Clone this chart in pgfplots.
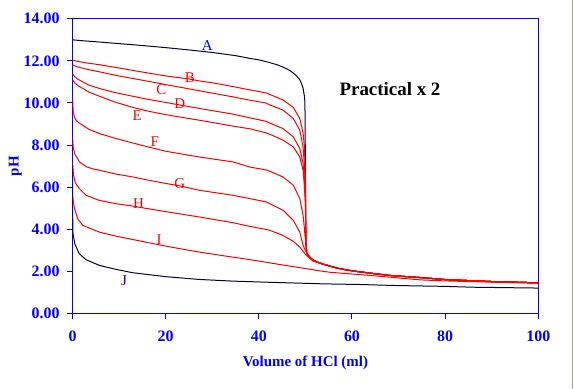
\documentclass[border=0pt]{standalone}
\usepackage{fontspec}
\setmainfont{Liberation Serif}
\usepackage{pgfplots}
\pgfplotsset{compat=1.18}
\definecolor{axblue}{RGB}{0,0,255}
\definecolor{navy}{RGB}{0,0,64}
\definecolor{edgegray}{RGB}{160,160,150}
\begin{document}
\begin{tikzpicture}[x=1bp,y=1bp]
\fill[white] (0,0) rectangle (574,387);
\draw[edgegray, line width=1bp] (572.5,0) -- (572.5,387);
\begin{axis}[
  at={(72.5bp,74.2bp)}, anchor=south west,
  scale only axis, width=465.8bp, height=294.5bp,
  xmin=0, xmax=100, ymin=0, ymax=14,
  axis line style={axblue, line width=1bp},
  xtick={0,20,40,60,80,100}, ytick={0,2,4,6,8,10,12,14},
  xticklabels={0,20,40,60,80,100},
  yticklabels={0.00,2.00,4.00,6.00,8.00,10.00,12.00,14.00},
  tick align=outside, tick pos=left,
  major tick length=5.5bp,
  tick style={axblue, line width=1bp},
  ticklabel style={font=\fontsize{16}{19}\selectfont\bfseries, text=axblue},
  yticklabel style={xshift=-4bp},
  xticklabel style={yshift=-9bp},
  xlabel={Volume of HCl (ml)}, ylabel={pH},
  label style={font=\fontsize{15}{18}\selectfont\bfseries, text=axblue},
  xlabel style={at={(axis description cs:0.5,-0.167)}, anchor=center},
  ylabel style={at={(axis description cs:-0.123,0.5)}, anchor=center},
]
% A
\addplot[navy, line width=1bp, no markers] coordinates {
(0,13.00) (2,12.96) (5,12.91) (10,12.82) (15,12.73) (20,12.63) (25,12.52) (30,12.40) (35,12.25) (38,12.12) (40,12.05) (42,11.94) (44,11.81) (45,11.72) (46,11.62) (47,11.49) (48,11.31) (48.8,11.1) (49.2,10.9) (49.5,10.7) (49.8,10.3) (49.9,10.0) (50,7.0) (50.1,3.4) (50.3,2.85) (51,2.65) (51.7,2.52) (52.4,2.45) (53.5,2.36) (55.3,2.24) (57,2.14) (58.9,2.06) (61,1.99) (65,1.88) (68.1,1.80) (70,1.77) (74.6,1.70) (80.3,1.60) (90,1.51) (100,1.45)};
% B
\addplot[red, line width=1bp, no markers] coordinates {
(0,12.04) (1,11.98) (3,11.90) (5.75,11.82) (10,11.66) (15,11.47) (20.1,11.28) (25,11.14) (27.2,11.05) (30,10.96) (34.4,10.78) (38.1,10.62) (41.5,10.48) (42.4,10.40) (45.2,10.14) (47.4,9.79) (48.8,9.26) (49.5,8.57) (49.8,7.9) (49.9,7.2) (50,6.2) (50.1,3.4) (50.3,2.85) (51,2.65) (51.7,2.52) (52.4,2.45) (53.5,2.36) (55.3,2.24) (57,2.14) (58.9,2.06) (61,1.99) (65,1.88) (68.1,1.80) (70,1.77) (74.6,1.70) (80.3,1.60) (90,1.51) (100,1.45)};
% C
\addplot[red, line width=1bp, no markers] coordinates {
(0,11.80) (1,11.72) (2.2,11.65) (3.5,11.58) (5.75,11.48) (10,11.28) (15,11.08) (20.1,10.87) (27.2,10.58) (34.4,10.29) (38.1,10.13) (41.5,10.0) (42.4,9.90) (45.2,9.66) (47.4,9.26) (48.8,8.70) (49.5,7.90) (49.8,7.0) (49.9,6.5) (50,5.9) (50.1,3.4) (50.3,2.85) (51,2.65) (51.7,2.52) (52.4,2.45) (53.5,2.36) (55.3,2.24) (57,2.14) (58.9,2.06) (61,1.99) (65,1.88) (68.1,1.80) (70,1.77) (74.6,1.70) (80.3,1.60) (90,1.51) (100,1.45)};
% D
\addplot[red, line width=1bp, no markers] coordinates {
(0,11.37) (0.5,11.25) (1,11.15) (2.2,11.0) (3.5,10.85) (5.75,10.69) (9,10.50) (12.9,10.32) (16,10.18) (20.1,10.02) (27.2,9.74) (34.4,9.47) (38.1,9.29) (41.5,9.13) (42.4,9.04) (45.2,8.78) (47.4,8.39) (48.8,7.83) (49.5,7.12) (49.8,6.4) (49.9,6.0) (50,5.5) (50.1,3.4) (50.3,2.85) (51,2.65) (51.7,2.52) (52.4,2.45) (53.5,2.36) (55.3,2.24) (57,2.14) (58.9,2.06) (61,1.99) (65,1.88) (68.1,1.80) (70,1.77) (74.6,1.70) (80.3,1.60) (90,1.51) (100,1.45)};
% E
\addplot[red, line width=1bp, no markers] coordinates {
(0,11.09) (0.5,10.95) (1.2,10.82) (2.2,10.69) (3.5,10.52) (5.75,10.32) (9,10.05) (12.9,9.79) (16,9.62) (20.1,9.44) (27.2,9.18) (34.4,8.90) (38.1,8.77) (41.5,8.58) (42.4,8.51) (45.2,8.23) (47.4,7.91) (48.8,7.43) (49.5,6.80) (49.8,6.0) (49.9,5.6) (50,5.2) (50.1,3.4) (50.3,2.85) (51,2.65) (51.7,2.52) (52.4,2.45) (53.5,2.36) (55.3,2.24) (57,2.14) (58.9,2.06) (61,1.99) (65,1.88) (68.1,1.80) (70,1.77) (74.6,1.70) (80.3,1.60) (90,1.51) (100,1.45)};
% F
\addplot[red, line width=1bp, no markers] coordinates {
(0,10.28) (0.15,9.6) (0.4,9.35) (0.75,9.18) (1.4,9.05) (2.2,8.94) (3.5,8.75) (5.75,8.55) (9.3,8.31) (12.9,8.10) (16,7.92) (20.1,7.70) (27.2,7.43) (34.4,7.20) (38.1,6.95) (41.5,6.82) (42.4,6.75) (45.2,6.48) (47.4,6.09) (48.8,5.45) (49.5,4.66) (49.8,4.0) (49.9,3.7) (50,3.55) (50.1,3.3) (50.3,2.85) (51,2.65) (51.7,2.52) (52.4,2.45) (53.5,2.36) (55.3,2.24) (57,2.14) (58.9,2.06) (61,1.99) (65,1.88) (68.1,1.80) (70,1.77) (74.6,1.70) (80.3,1.60) (90,1.51) (100,1.45)};
% G
\addplot[red, line width=1bp, no markers] coordinates {
(0,8.40) (0.15,7.90) (0.5,7.55) (0.9,7.43) (1.5,7.20) (3.0,6.96) (4.5,6.86) (5.8,6.80) (9.3,6.62) (13,6.48) (16.5,6.32) (20.1,6.17) (23,6.06) (27.2,5.85) (34.4,5.61) (38.1,5.45) (41.5,5.30) (42.4,5.21) (45.2,4.90) (47.4,4.42) (48.8,3.86) (49.5,3.23) (50,2.98) (50.6,2.75) (51.7,2.52) (52.4,2.45) (53.5,2.36) (55.3,2.24) (57,2.14) (58.9,2.06) (61,1.99) (65,1.88) (68.1,1.80) (70,1.77) (74.6,1.70) (80.3,1.60) (90,1.51) (100,1.45)};
% H
\addplot[red, line width=1bp, no markers] coordinates {
(0,7.20) (0.2,6.60) (0.6,6.20) (1.46,5.93) (2.9,5.61) (5.75,5.37) (9.3,5.21) (12.9,5.10) (16,4.98) (20.1,4.83) (27.2,4.58) (34.4,4.31) (38.1,4.13) (41.5,3.99) (42.4,3.94) (45.2,3.70) (47.4,3.42) (48.8,3.15) (50,2.80) (51.7,2.47) (52.4,2.43) (53.5,2.36) (55.3,2.24) (57,2.14) (58.9,2.06) (61,1.99) (65,1.88) (68.1,1.80) (70,1.77) (74.6,1.70) (80.3,1.60) (90,1.51) (100,1.45)};
% I
\addplot[red, line width=1bp, no markers] coordinates {
(0,5.60) (0.1,5.45) (0.4,5.00) (1.1,4.50) (2.2,4.18) (5.75,3.86) (9.3,3.67) (12.9,3.51) (16.5,3.35) (20.1,3.19) (27.2,2.91) (34.4,2.67) (38.1,2.55) (41.5,2.43) (44.5,2.32) (46.7,2.24) (50,2.13) (52.4,2.04) (55.3,1.95) (61,1.85) (66,1.76) (74.6,1.59) (80,1.54) (90,1.48) (100,1.43)};
% J
\addplot[navy, line width=1bp, no markers] coordinates {
(0,7.0) (0.05,4.5) (0.1,3.8) (0.5,3.3) (1.46,2.83) (2.9,2.55) (5.75,2.28) (9.3,2.09) (12.9,1.93) (20.1,1.74) (27.2,1.61) (34.4,1.53) (41.5,1.48) (53.8,1.40) (61.6,1.37) (69.5,1.32) (80,1.28) (86,1.24) (100,1.20)};
\node[text=axblue, font=\fontsize{15}{17}\selectfont] at (axis cs:28.94,12.71) {A};
\node[text=red, font=\fontsize{15}{17}\selectfont] at (axis cs:25.18,11.22) {B};
\node[text=red, font=\fontsize{15}{17}\selectfont] at (axis cs:19.06,10.63) {C};
\node[text=red, font=\fontsize{15}{17}\selectfont] at (axis cs:23.04,9.99) {D};
\node[text=red, font=\fontsize{15}{17}\selectfont] at (axis cs:13.91,9.42) {E};
\node[text=red, font=\fontsize{15}{17}\selectfont] at (axis cs:17.67,8.15) {F};
\node[text=red, font=\fontsize{15}{17}\selectfont] at (axis cs:23.04,6.17) {G};
\node[text=red, font=\fontsize{15}{17}\selectfont] at (axis cs:14.17,5.23) {H};
\node[text=red, font=\fontsize{15}{17}\selectfont] at (axis cs:18.61,3.48) {I};
\node[text=axblue, font=\fontsize{15}{17}\selectfont] at (axis cs:11.06,1.54) {J};
\node[text=black, font=\fontsize{19}{22}\selectfont\bfseries] at (axis cs:68.16,10.68) {Practical x 2};
\end{axis}
\end{tikzpicture}
\end{document}
